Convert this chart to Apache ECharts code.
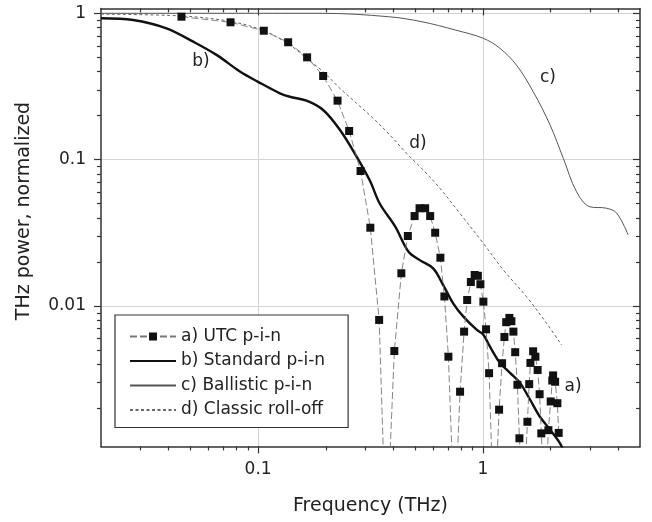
<!DOCTYPE html>
<html>
<head>
<meta charset="utf-8">
<script src="https://cdn.jsdelivr.net/npm/echarts@6.0.0/dist/echarts.min.js"></script>
<style>
  html, body { margin: 0; padding: 0; background: #fff; }
  #chart { width: 652px; height: 522px; }
</style>
</head>
<body>
<div id="chart"></div>
<script>
// a) UTC p-i-n (measured points, dips below the axis are kept so the lines drop off)
const utcFreq = [0.0456, 0.0754, 0.106, 0.136, 0.1652, 0.1947, 0.2256, 0.2541, 0.2856, 0.3157,
  0.3455, 0.3715, 0.4037, 0.4338, 0.4636, 0.4967, 0.5227, 0.5536, 0.5827, 0.6134,
  0.647, 0.6741, 0.7024, 0.748, 0.7916, 0.8249, 0.8514, 0.8842, 0.9194, 0.95,
  0.9747, 1.005, 1.033, 1.0656, 1.122, 1.1805, 1.2173, 1.2466, 1.2698, 1.3118,
  1.3391, 1.3669, 1.3924, 1.4242, 1.4537, 1.514, 1.578, 1.607, 1.627, 1.673,
  1.713, 1.752, 1.788, 1.819, 1.888, 1.956, 2.003, 2.036, 2.053, 2.096,
  2.145, 2.174];
const utcPower = [0.948, 0.868, 0.760, 0.634, 0.500, 0.373, 0.253, 0.157, 0.0837, 0.0343,
  0.00804, 0.00024, 0.00493, 0.01675, 0.0301, 0.0412, 0.0466, 0.0466, 0.0412, 0.0317,
  0.0214, 0.01163, 0.00451, 0.000325, 0.0026, 0.00669, 0.0110, 0.0146, 0.0163, 0.0161,
  0.0141, 0.01072, 0.00694, 0.00348, 0.0003, 0.00196, 0.00407, 0.00615, 0.00776, 0.0083,
  0.00788, 0.00669, 0.00484, 0.0029, 0.00125, 0.0004, 0.00162, 0.00293, 0.00409, 0.00491,
  0.00451, 0.00366, 0.0025, 0.00135, 0.0004, 0.00142, 0.00223, 0.0031, 0.00336, 0.00304,
  0.00217, 0.00136];

// b) Standard p-i-n
const stdFreq = [0.02, 0.0278, 0.0391, 0.0514, 0.0653, 0.083, 0.1, 0.125, 0.1384, 0.1642,
  0.1947, 0.231, 0.2742, 0.3141, 0.348, 0.407, 0.467, 0.524, 0.601, 0.666,
  0.7375, 0.8173, 0.9375, 1.003, 1.074, 1.19, 1.32, 1.46, 1.62, 1.79,
  1.99, 2.2, 2.3];
const stdPower = [0.925, 0.90, 0.79, 0.64, 0.52, 0.40, 0.34, 0.284, 0.269, 0.253,
  0.2185, 0.16, 0.105, 0.072, 0.05, 0.035, 0.0235, 0.0206, 0.0181, 0.0139,
  0.01045, 0.0085, 0.0069, 0.0064, 0.0053, 0.0041, 0.0035, 0.0030, 0.0023, 0.00176,
  0.00143, 0.00116, 0.001];

// c) Ballistic p-i-n
const balFreq = [0.02, 0.192, 0.38, 0.535, 0.753, 1.003, 1.19, 1.41, 1.675, 1.99,
  2.28, 2.61, 2.99, 3.55, 3.94, 4.43];
const balPower = [1.0, 1.0, 0.948, 0.876, 0.769, 0.675, 0.577, 0.443, 0.291, 0.1726,
  0.102, 0.0604, 0.0477, 0.0466, 0.0431, 0.0306];

// d) Classic roll-off
const clsFreq = [0.02, 0.045, 0.0754, 0.106, 0.1384, 0.1642, 0.1947, 0.231, 0.2742, 0.3249,
  0.3856, 0.4575, 0.5425, 0.6436, 0.79, 1.003, 1.231, 1.565, 1.92, 2.24];
const clsPower = [0.985, 0.96, 0.88, 0.76, 0.607, 0.493, 0.399, 0.3075, 0.2427, 0.1918,
  0.1475, 0.1106, 0.085, 0.0638, 0.043, 0.0269, 0.0177, 0.01156, 0.00763, 0.00542];

const seriesNames = ['a) UTC p-i-n', 'b) Standard p-i-n', 'c) Ballistic p-i-n', 'd) Classic roll-off'];

// ticks
const xMajor = [0.1, 1];
const xMinor = [0.03, 0.04, 0.05, 0.06, 0.07, 0.08, 0.09,
  0.2, 0.3, 0.4, 0.5, 0.6, 0.7, 0.8, 0.9, 2, 3, 4];
const yMajor = [0.01, 0.1, 1];
const yMinor = [0.002, 0.003, 0.004, 0.005, 0.006, 0.007, 0.008, 0.009,
  0.02, 0.03, 0.04, 0.05, 0.06, 0.07, 0.08, 0.09,
  0.2, 0.3, 0.4, 0.5, 0.6, 0.7, 0.8, 0.9];

const FONT = 'DejaVu Sans';
const X_MIN = 0.02, X_MAX = 5, Y_MIN = 0.0011, Y_MAX = 1.08;

function pairs(xs, ys) {
  return xs.map((x, i) => [x, ys[i]]);
}

function logAxis(min, max, extra) {
  const base = {
    type: 'log', logBase: 10, min: min, max: max,
    axisLine: { show: false, onZero: false },
    axisTick: { show: false },
    axisLabel: { show: false },
    splitLine: { show: false }
  };
  return Object.assign(base, extra);
}

const frameLine = { show: true, onZero: false, lineStyle: { color: '#333', width: 1.5 } };
const tickStyle = { color: '#333', width: 1.2 };

var dom = document.getElementById('chart');
var myChart = echarts.init(dom, null, { renderer: 'canvas' });

var option = {
  animation: false,
  backgroundColor: '#fff',
  textStyle: { fontFamily: FONT },
  grid: { left: 101, right: 12, top: 8.4, bottom: 75.6, containLabel: false },
  xAxis: [
    logAxis(X_MIN, X_MAX, {
      position: 'bottom',
      axisLine: frameLine,
      axisTick: { show: true, inside: false, length: 7, customValues: xMajor, lineStyle: tickStyle },
      axisLabel: {
        show: true, customValues: xMajor, margin: 15,
        fontFamily: FONT, fontSize: 17, color: '#222',
        formatter: function (v) { return String(v); }
      },
      splitLine: { show: true, lineStyle: { color: '#d4d4d4', width: 1 } },
      name: 'Frequency (THz)', nameLocation: 'middle', nameGap: 50,
      nameTextStyle: { fontFamily: FONT, fontSize: 19, color: '#222' }
    }),
    logAxis(X_MIN, X_MAX, {
      position: 'bottom',
      axisTick: { show: true, inside: false, length: 4, customValues: xMinor, lineStyle: tickStyle }
    }),
    logAxis(X_MIN, X_MAX, {
      position: 'top',
      axisLine: frameLine,
      axisTick: { show: true, inside: true, length: 7, customValues: xMajor, lineStyle: tickStyle }
    }),
    logAxis(X_MIN, X_MAX, {
      position: 'top',
      axisTick: { show: true, inside: true, length: 4, customValues: xMinor, lineStyle: tickStyle }
    })
  ],
  yAxis: [
    logAxis(Y_MIN, Y_MAX, {
      position: 'left',
      axisLine: frameLine,
      axisTick: { show: true, inside: false, length: 7, customValues: yMajor, lineStyle: tickStyle },
      axisLabel: {
        show: true, customValues: yMajor, margin: 15,
        fontFamily: FONT, fontSize: 17, color: '#222',
        formatter: function (v) { return String(v); }
      },
      splitLine: { show: true, lineStyle: { color: '#d4d4d4', width: 1 } }
    }),
    logAxis(Y_MIN, Y_MAX, {
      position: 'left',
      axisTick: { show: true, inside: false, length: 4, customValues: yMinor, lineStyle: tickStyle }
    }),
    logAxis(Y_MIN, Y_MAX, {
      position: 'right',
      axisLine: frameLine,
      axisTick: { show: true, inside: true, length: 7, customValues: yMajor, lineStyle: tickStyle }
    }),
    logAxis(Y_MIN, Y_MAX, {
      position: 'right',
      axisTick: { show: true, inside: true, length: 4, customValues: yMinor, lineStyle: tickStyle }
    })
  ],
  legend: {
    // plain lines for b, c, d: hide the marker the line icon would add
    data: [
      { name: seriesNames[0] },
      { name: seriesNames[1], itemStyle: { opacity: 0 } },
      { name: seriesNames[2], itemStyle: { opacity: 0 } },
      { name: seriesNames[3], itemStyle: { opacity: 0 } }
    ],
    orient: 'vertical',
    left: 115, top: 315,
    padding: [13, 23, 9, 14],
    itemWidth: 46, itemHeight: 10, itemGap: 7.5,
    backgroundColor: '#fff',
    borderColor: '#333', borderWidth: 1.2,
    selectedMode: false,
    textStyle: { fontFamily: FONT, fontSize: 17, color: '#222' }
  },
  graphic: [
    { type: 'text', x: 24, y: 211, rotation: Math.PI / 2,
      style: { text: 'THz power, normalized', align: 'center', verticalAlign: 'middle', font: '19px "DejaVu Sans"', fill: '#222' } },
    { type: 'text', style: { text: 'b)', x: 201, y: 62, align: 'center', verticalAlign: 'middle', font: '17px "DejaVu Sans"', fill: '#222' } },
    { type: 'text', style: { text: 'c)', x: 548, y: 78, align: 'center', verticalAlign: 'middle', font: '17px "DejaVu Sans"', fill: '#222' } },
    { type: 'text', style: { text: 'd)', x: 418, y: 144, align: 'center', verticalAlign: 'middle', font: '17px "DejaVu Sans"', fill: '#222' } },
    { type: 'text', style: { text: 'a)', x: 573, y: 387, align: 'center', verticalAlign: 'middle', font: '17px "DejaVu Sans"', fill: '#222' } }
  ],
  series: [
    {
      name: seriesNames[1], type: 'line', xAxisIndex: 0, yAxisIndex: 0,
      data: pairs(stdFreq, stdPower), symbol: 'none', smooth: 0.35,
      lineStyle: { color: '#111', width: 2.4 }, itemStyle: { color: '#111' }
    },
    {
      name: seriesNames[2], type: 'line', xAxisIndex: 0, yAxisIndex: 0,
      data: pairs(balFreq, balPower), symbol: 'none', smooth: 0.35,
      lineStyle: { color: '#555', width: 1 }, itemStyle: { color: '#555' }
    },
    {
      name: seriesNames[3], type: 'line', xAxisIndex: 0, yAxisIndex: 0,
      data: pairs(clsFreq, clsPower), symbol: 'none', smooth: 0.35,
      lineStyle: { color: '#666', width: 1, type: [3, 2.5] }, itemStyle: { color: '#666' }
    },
    {
      name: seriesNames[0], type: 'line', xAxisIndex: 0, yAxisIndex: 0,
      data: pairs(utcFreq, utcPower), symbol: 'rect', symbolSize: 8,
      lineStyle: { color: '#777', width: 0.9, type: [7, 3] },
      itemStyle: { color: '#111' }
    }
  ]
};

if (option && typeof option === 'object') {
  myChart.setOption(option);
}
window.addEventListener('resize', myChart.resize);
</script>
</body>
</html>
